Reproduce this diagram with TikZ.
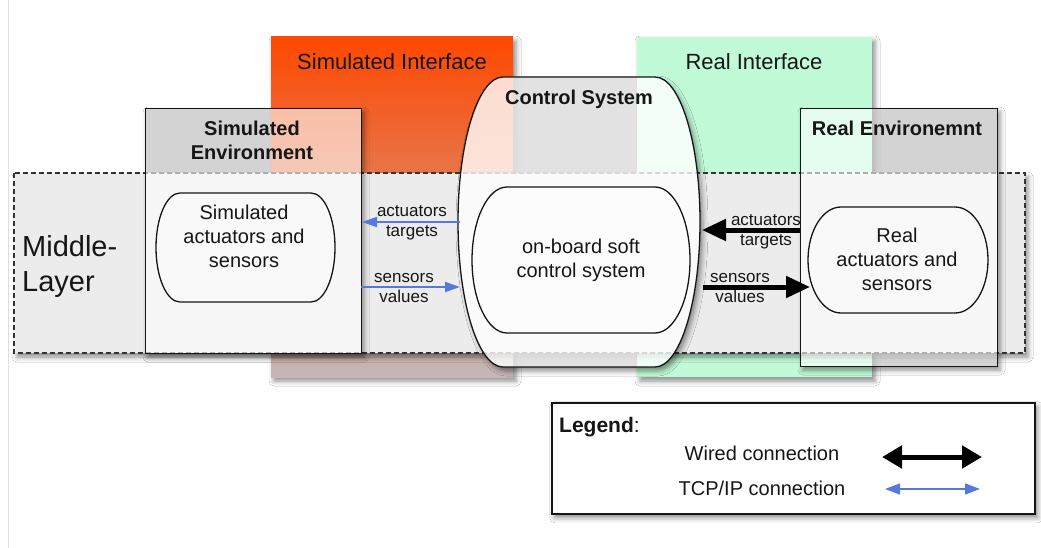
\documentclass[tikz,border=0pt]{standalone}
\usepackage{fontspec}
\setmainfont{Liberation Sans}
\usetikzlibrary{arrows.meta,shadows.blur}

\definecolor{orTop}{RGB}{255,72,0}
\definecolor{orMid}{RGB}{231,114,90}
\definecolor{orBot}{RGB}{196,183,183}
\definecolor{realgreen}{RGB}{192,250,214}
\definecolor{layergrey}{RGB}{236,236,236}
\definecolor{tcpblue}{RGB}{88,120,222}
\definecolor{ink}{RGB}{22,22,22}
\definecolor{boxdim}{RGB}{145,145,145}
\definecolor{ctrldim}{RGB}{112,112,112}

% capsule outline: straight top and bottom, half-elliptic sides
% #1 path command, #2 x1, #3 y1, #4 x2, #5 y2, #6 side radius
\newcommand\capsule[6]{%
  \pgfmathsetmacro\cpXa{#2+#6}%
  \pgfmathsetmacro\cpXb{#4-#6}%
  \pgfmathsetmacro\cpYm{(#3+#5)/2}%
  \pgfmathsetmacro\cpKx{0.5523*#6}%
  \pgfmathsetmacro\cpKy{0.5523*(#5-#3)/2}%
  #1 (\cpXa,#3) -- (\cpXb,#3)
     .. controls ({\cpXb+\cpKx},#3) and (#4,{\cpYm-\cpKy}) .. (#4,\cpYm)
     .. controls (#4,{\cpYm+\cpKy}) and ({\cpXb+\cpKx},#5) .. (\cpXb,#5)
     -- (\cpXa,#5)
     .. controls ({\cpXa-\cpKx},#5) and (#2,{\cpYm+\cpKy}) .. (#2,\cpYm)
     .. controls (#2,{\cpYm-\cpKy}) and ({\cpXa-\cpKx},#3) .. (\cpXa,#3) -- cycle;%
}

\tikzset{
  every node/.style={inner sep=0pt, text=ink},
  softshadow/.style={blur shadow={shadow xshift=3pt, shadow yshift=-4pt,
      shadow blur radius=5pt, shadow opacity=45}},
  frame/.style={draw=ink, line width=1.3pt},
  layerline/.style={draw=black!80, line width=1.2pt, dash pattern=on 5pt off 3pt},
  titlefont/.style={font=\fontsize{22}{26}\selectfont},
  boxtitle/.style={font=\bfseries\fontsize{20}{24}\selectfont, align=center},
  bodytext/.style={font=\fontsize{20}{24}\selectfont, align=center},
  smalltext/.style={font=\fontsize{17}{20}\selectfont, align=center},
  tcp/.style={draw=tcpblue, line width=1.8pt,
      -{Triangle[length=15pt,width=10pt,fill=tcpblue]}},
  wired/.style={draw=black, line width=5pt,
      -{Triangle[length=24pt,width=21pt]}},
}

\begin{document}
\begin{tikzpicture}[x=1pt,y=-1pt]
\useasboundingbox (0,0) rectangle (1041,548);
\fill[white] (0,0) rectangle (1041,548);
\draw[black!12, line width=1pt] (8,0) -- (8,548);

% grey underlays seen through the translucent boxes
\fill[boxdim] (145,108) rectangle (361,353);
\fill[boxdim] (800,108) rectangle (997,366);
\capsule{\fill[ctrldim]}{458}{77}{700}{367}{45}

% the two interfaces
\path[softshadow, top color=orTop, middle color=orMid, bottom color=orBot]
  (271,37) rectangle (513,377);
\path[softshadow, fill=realgreen] (637,37) rectangle (872,377);
\node[titlefont] (simif) at (392,62) {Simulated Interface};
\node[titlefont] (realif) at (754,62) {Real Interface};

% middle layer band
\path[softshadow, fill=layergrey] (14,173) rectangle (1025,353);
\path[layerline] (14,173) rectangle (1025,353);
\node[font=\fontsize{29}{35}\selectfont, align=left, anchor=west]
  (mlayer) at (22,267) {Middle-\\Layer};

% outer shadows of the boxes: the frame runs one way and the outline the
% other way round, so the clip keeps only what lies outside the outline
\begin{scope}
  \clip (-50,-50) -- (-50,600) -- (1100,600) -- (1100,-50) -- cycle
        (145,108) -- (361,108) -- (361,353) -- (145,353) -- cycle;
  \path[softshadow] (145,108) rectangle (361,353);
\end{scope}
\begin{scope}
  \clip (-50,-50) -- (-50,600) -- (1100,600) -- (1100,-50) -- cycle
        (800,108) -- (997,108) -- (997,366) -- (800,366) -- cycle;
  \path[softshadow] (800,108) rectangle (997,366);
\end{scope}
\begin{scope}
  \capsule{\clip (-50,-50) -- (-50,600) -- (1100,600) -- (1100,-50) -- cycle}{458}{77}{700}{367}{45}
  \capsule{\path[softshadow]}{458}{77}{700}{367}{45}
\end{scope}

% boxes
\node[frame, fill=white, fill opacity=0.6, minimum width=216pt, minimum height=245pt,
  anchor=north west] (simenv) at (145,108) {};
\node[frame, fill=white, fill opacity=0.6, minimum width=197pt, minimum height=258pt,
  anchor=north west] (realenv) at (800,108) {};
\capsule{\path[frame, fill=white, fill opacity=0.8]}{458}{77}{700}{367}{45}

\node[boxtitle] (simenvtitle) at (252,140) {Simulated\\Environment};
\node[boxtitle] (ctrltitle) at (579,99) {Control System};
\node[boxtitle] (realenvtitle) at (897,128) {Real Environemnt};

% inner capsules
\capsule{\path[frame, fill=white, fill opacity=0.3]}{156}{193}{335}{302}{24}
\capsule{\path[frame, fill=white, fill opacity=0.3]}{472}{187}{690}{333}{35}
\capsule{\path[frame, fill=white, fill opacity=0.3]}{808}{207}{988}{313}{33}

\node[bodytext] (simact) at (244,236) {Simulated\\actuators and\\sensors};
\node[bodytext] (onboard) at (581,260) {on-board soft\\control system};
\node[bodytext] (realact) at (897,259) {Real\\actuators and\\sensors};

% connector end points on the outlines
\coordinate (ctrlW1) at (460,222);
\coordinate (simE1) at (362,222);
\coordinate (simE2) at (361,287);
\coordinate (ctrlW2) at (460,287);
\coordinate (realW1) at (800,230);
\coordinate (ctrlE1) at (702,230);
\coordinate (ctrlE2) at (703,287);
\coordinate (realin) at (810,287);

\draw[tcp] (ctrlW1) -- (simE1);
\draw[tcp] (simE2) -- (ctrlW2);
\draw[wired] (realW1) -- (ctrlE1);
\draw[wired] (ctrlE2) -- (realin);

\node[smalltext] (lblA1) at (412,223) {actuators\\targets};
\node[smalltext] (lblS1) at (404,288) {sensors\\values};
\node[smalltext] (lblA2) at (766,232) {actuators\\targets};
\node[smalltext] (lblS2) at (740,288) {sensors\\values};

% legend
\node[softshadow, draw=ink, line width=1.5pt, fill=white, minimum width=483pt,
  minimum height=111pt, anchor=north west] (legend) at (551,402) {};
\node[anchor=west, font=\fontsize{21}{25}\selectfont] (legtitle) at (559,427)
  {\textbf{Legend}:};
\node[bodytext] (wiredtxt) at (762,453) {Wired connection};
\node[bodytext] (tcptxt) at (762,488) {TCP/IP connection};
\coordinate (wA) at (882,457);
\coordinate (wB) at (982,457);
\coordinate (tA) at (885,489);
\coordinate (tB) at (980,489);
\draw[draw=black, line width=5pt, {Triangle[length=20pt,width=22pt]}-{Triangle[length=20pt,width=22pt]}] (wA) -- (wB);
\draw[draw=tcpblue, line width=1.5pt,
  {Triangle[length=15pt,width=11pt,fill=tcpblue]}-{Triangle[length=15pt,width=11pt,fill=tcpblue]}] (tA) -- (tB);
\end{tikzpicture}
\end{document}
